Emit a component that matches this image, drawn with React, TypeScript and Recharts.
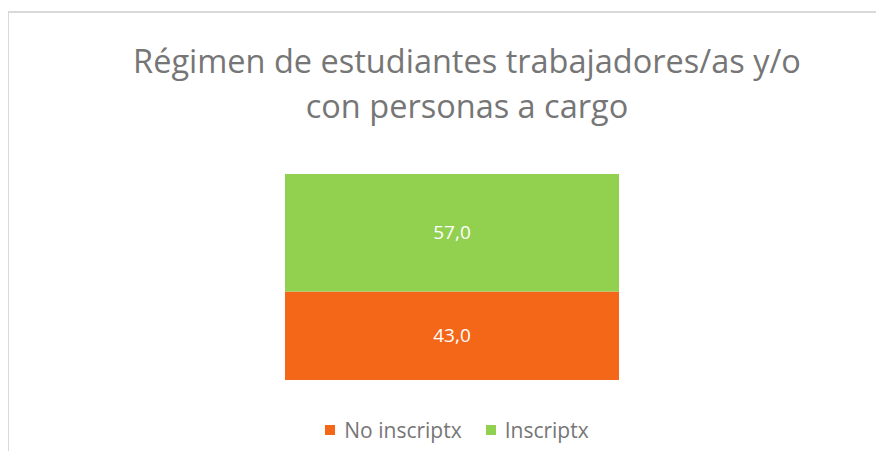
import { BarChart, Bar, XAxis, YAxis, LabelList } from 'recharts';

const categories = ['Régimen'];
const noInscriptx = [43.0];
const inscriptx = [57.0];
const seriesNames = ['No inscriptx', 'Inscriptx'];
const seriesColors = ['#f46718', '#92d050'];

const data = categories.map((name, i) => ({
  name,
  no: noInscriptx[i],
  si: inscriptx[i],
}));

const fmt = (v: number) => v.toFixed(1).replace('.', ',');

const font = '"Open Sans", Lato, sans-serif';

const App = () => {
  return (
    <div
      style={{
        position: 'relative',
        width: 884,
        height: 459,
        margin: -8,
        overflow: 'hidden',
        background: '#fff',
        fontFamily: font,
      }}
    >
      <div
        style={{
          position: 'absolute',
          left: 7,
          top: 11,
          width: 900,
          height: 470,
          border: '2px solid #d9d9d9',
        }}
      />

      <div
        style={{
          position: 'absolute',
          top: 38,
          left: 0,
          width: 934,
          textAlign: 'center',
          color: '#767676',
          fontSize: 32.5,
          lineHeight: '45px',
        }}
      >
        Régimen de estudiantes trabajadores/as y/o
        <br />
        con personas a cargo
      </div>

      <div style={{ position: 'absolute', left: 0, top: 0 }}>
        <BarChart
          width={884}
          height={459}
          data={data}
          margin={{ top: 174, bottom: 79, left: 285, right: 265 }}
          barCategoryGap={0}
        >
          <XAxis dataKey="name" hide />
          <YAxis hide domain={[0, 100]} />
          <Bar dataKey="no" stackId="a" fill={seriesColors[0]} isAnimationActive={false}>
            <LabelList dataKey="no" position="center" fill="#fff" fontSize={19} fontFamily={font} formatter={(v: any) => fmt(Number(v))} />
          </Bar>
          <Bar dataKey="si" stackId="a" fill={seriesColors[1]} isAnimationActive={false}>
            <LabelList dataKey="si" position="center" fill="#fff" fontSize={19} fontFamily={font} formatter={(v: any) => fmt(Number(v))} />
          </Bar>
        </BarChart>
      </div>

      <div
        style={{
          position: 'absolute',
          top: 416,
          left: 0,
          width: 914,
          display: 'flex',
          justifyContent: 'center',
          gap: 24,
          color: '#767676',
          fontSize: 21,
        }}
      >
        {seriesNames.map((s, i) => (
          <div key={s} style={{ display: 'flex', alignItems: 'center' }}>
            <span style={{ width: 10, height: 10, background: seriesColors[i], marginRight: 9 }} />
            {s}
          </div>
        ))}
      </div>
    </div>
  );
};

export default App;
